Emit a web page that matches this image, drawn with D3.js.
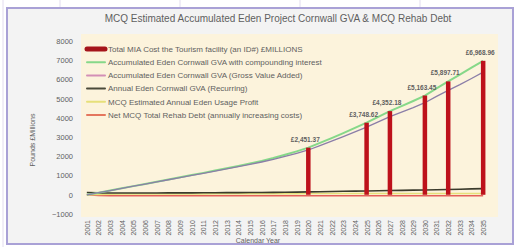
<!doctype html>
<html>
  <head>
    <script src="https://cdnjs.cloudflare.com/ajax/libs/d3/7.8.5/d3.min.js"></script>
    <style>
      body { margin: 0; background: #fff; }
      text { font-family: "Liberation Sans", Arial, sans-serif; fill: #5f5f5f; }
    </style>
  </head>
  <body>
    <svg id="chart" width="518" height="247"></svg>
    <script>
      // calendar years on the category axis
      var years = [2001, 2002, 2003, 2004, 2005, 2006, 2007, 2008, 2009, 2010,
                   2011, 2012, 2013, 2014, 2015, 2016, 2017, 2018, 2019, 2020,
                   2021, 2022, 2023, 2024, 2025, 2026, 2027, 2028, 2029, 2030,
                   2031, 2032, 2033, 2034, 2035];

      // £ millions
      var accumCompound = [0, 110, 220, 335, 450, 565, 680, 795, 910, 1025,
                           1140, 1260, 1380, 1500, 1625, 1760, 1910, 2080, 2260, 2451,
                           2700, 2950, 3210, 3480, 3749, 4050, 4352, 4610, 4880, 5163,
                           5530, 5898, 6250, 6610, 6969];
      var accumGross = [0, 110, 218, 332, 445, 558, 670, 782, 893, 1004,
                        1115, 1230, 1345, 1460, 1578, 1705, 1845, 2000, 2160, 2330,
                        2560, 2790, 3025, 3275, 3520, 3795, 4070, 4300, 4535, 4790,
                        5120, 5430, 5730, 6050, 6380];
      var annualGva = [120, 100, 95, 95, 95, 95, 95, 100, 100, 100,
                       105, 105, 110, 110, 115, 120, 125, 130, 140, 150,
                       160, 170, 180, 190, 200, 210, 220, 230, 240, 250,
                       260, 275, 290, 305, 320];
      var usageProfit = [0, 20, 30, 35, 40, 40, 40, 45, 45, 45,
                         45, 50, 50, 50, 50, 55, 55, 55, 55, 60,
                         60, 60, 60, 60, 65, 65, 65, 65, 65, 70,
                         70, 70, 70, 70, 70];
      var rehabDebt = [0, -30, -45, -50, -50, -50, -50, -50, -50, -50,
                       -50, -50, -50, -50, -50, -50, -50, -50, -50, -50,
                       -50, -50, -50, -50, -50, -50, -50, -50, -50, -50,
                       -50, -50, -50, -50, -50];

      var barYears = [2020, 2025, 2027, 2030, 2032, 2035];
      var barValues = [2451.37, 3748.62, 4352.18, 5163.45, 5897.71, 6968.96];

      var yTicks = [-1000, 0, 1000, 2000, 3000, 4000, 5000, 6000, 7000, 8000];

      var chartTitle = "MCQ Estimated Accumulated Eden Project Cornwall GVA & MCQ Rehab Debt";
      var legendNames = [
        "Total MIA Cost the Tourism facility (an ID#) £MILLIONS",
        "Accumulated Eden Cornwall GVA with compounding interest",
        "Accumulated Eden Cornwall GVA (Gross Value Added)",
        "Annual Eden Cornwall GVA (Recurring)",
        "MCQ Estimated Annual Eden Usage Profit",
        "Net MCQ Total Rehab Debt (annually increasing costs)"
      ];

      var svg = d3.select("#chart");

      // faint spreadsheet grid behind the chart object
      [60, 180, 300, 420].forEach(function (gx) {
        svg.append("line").attr("x1", gx).attr("x2", gx).attr("y1", 0).attr("y2", 8)
          .attr("stroke", "#e2dcef");
      });
      svg.append("line").attr("x1", 3).attr("x2", 3).attr("y1", 0).attr("y2", 247)
        .attr("stroke", "#e2dcef");

      // chart frame
      svg.append("rect")
        .attr("x", 7).attr("y", 8).attr("width", 506).attr("height", 236)
        .attr("fill", "#f3f3f3").attr("stroke", "#a9a1d6").attr("stroke-width", 2);

      // plot area
      svg.append("rect")
        .attr("x", 81).attr("y", 34).attr("width", 417).attr("height", 183)
        .attr("fill", "#fcf3dc");

      var x = d3.scalePoint().domain(years).range([81, 489]).padding(0.5);
      var y = d3.scaleLinear().domain([-1000, 8000]).range([214, 41]);

      svg.append("text")
        .attr("x", 278).attr("y", 22)
        .attr("text-anchor", "middle")
        .attr("font-size", 10)
        .text(chartTitle);

      // y axis
      var yAxis = svg.append("g")
        .attr("transform", "translate(76,0)")
        .call(d3.axisLeft(y).tickValues(yTicks).tickSize(0).tickPadding(3).tickFormat(d3.format("d")));
      yAxis.select(".domain").remove();
      yAxis.selectAll("text").attr("font-size", 7.5).attr("fill", "#5f5f5f")
        .style("font-family", "Liberation Sans, Arial, sans-serif");

      svg.append("text")
        .attr("transform", "translate(35,140) rotate(-90)")
        .attr("text-anchor", "middle")
        .attr("font-size", 7)
        .text("Pounds £Millions");

      // x axis, labels at the bottom
      var xAxis = svg.append("g")
        .attr("transform", "translate(0,217)")
        .call(d3.axisBottom(x).tickSize(0).tickPadding(0));
      xAxis.select(".domain").remove();
      xAxis.selectAll("text")
        .attr("font-size", 7).attr("fill", "#5f5f5f")
        .style("font-family", "Liberation Sans, Arial, sans-serif")
        .attr("text-anchor", "end")
        .attr("transform", "rotate(-90)")
        .attr("x", -3).attr("y", 0).attr("dy", "0.35em");

      svg.append("text")
        .attr("x", 258).attr("y", 243)
        .attr("text-anchor", "middle")
        .attr("font-size", 7)
        .text("Calendar Year");

      // lines (gross drawn over compounded so the shared stretch looks greyish)
      var series = [
        { values: rehabDebt, color: "#e4605a", width: 1.6 },
        { values: usageProfit, color: "#e6e07a", width: 1.5 },
        { values: annualGva, color: "#3b3b2c", width: 1.6 },
        { values: accumCompound, color: "#86d889", width: 2 },
        { values: accumGross, color: "#8b7ea8", width: 1.3 }
      ];
      var line = d3.line()
        .x(function (d, i) { return x(years[i]); })
        .y(function (d) { return y(d); });

      svg.selectAll("path.series")
        .data(series)
        .enter()
        .append("path")
          .attr("class", "series")
          .attr("d", function (s) { return line(s.values); })
          .attr("fill", "none")
          .attr("stroke", function (s) { return s.color; })
          .attr("stroke-width", function (s) { return s.width; });

      // cost bars
      svg.selectAll("rect.bar")
        .data(barValues)
        .enter()
        .append("rect")
          .attr("class", "bar")
          .attr("x", function (d, i) { return x(barYears[i]) - 2.25; })
          .attr("y", function (d) { return y(d); })
          .attr("width", 4.5)
          .attr("height", function (d) { return y(0) - y(d); })
          .attr("fill", "#bd111b");

      var money = d3.format(",.2f");
      svg.selectAll("text.barLabel")
        .data(barValues)
        .enter()
        .append("text")
          .attr("class", "barLabel")
          .attr("x", function (d, i) { return x(barYears[i]) - 3; })
          .attr("y", function (d) { return y(d) - 6; })
          .attr("text-anchor", "middle")
          .attr("font-size", 6.5)
          .attr("font-weight", "bold")
          .attr("fill", "#404040")
          .text(function (d) { return "£" + money(d); });

      // legend
      var legendColors = ["#a5141a", "#86d889", "#d38fb6", "#4a4a3a", "#e6e07a", "#e4765e"];
      var legendWidths = [5, 2, 2, 2, 2, 2];
      var legend = svg.selectAll("g.legend")
        .data(legendNames)
        .enter()
        .append("g")
          .attr("class", "legend")
          .attr("transform", function (d, i) { return "translate(87," + (49 + i * 13.2) + ")"; });
      legend.append("line")
        .attr("x1", 0).attr("x2", 18)
        .attr("stroke", function (d, i) { return legendColors[i]; })
        .attr("stroke-width", function (d, i) { return legendWidths[i]; })
        .attr("stroke-linecap", "round");
      legend.append("text")
        .attr("x", 21).attr("dy", "0.35em")
        .attr("font-size", 8)
        .text(function (d) { return d; });
    </script>
  </body>
</html>
